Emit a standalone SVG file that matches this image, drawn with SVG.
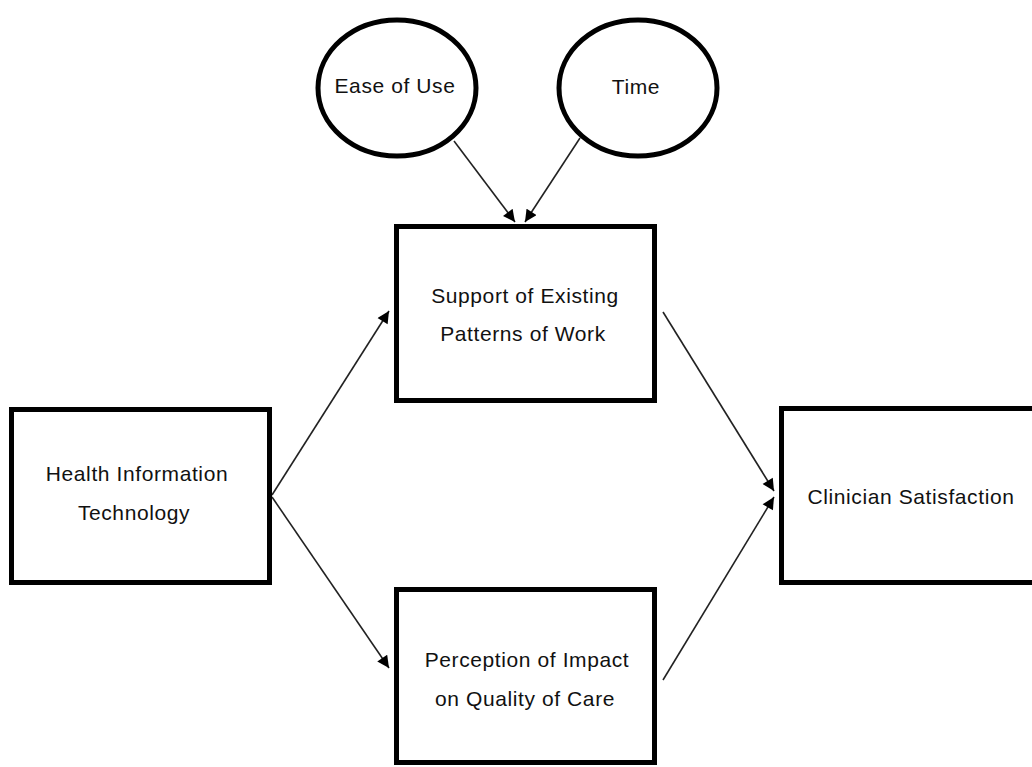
<svg xmlns="http://www.w3.org/2000/svg" width="1032" height="767" viewBox="0 0 1032 767">
<style>
.box{fill:#fff;stroke:#000;stroke-width:5}
.lbl{font-family:"Liberation Sans",Arial,sans-serif;font-size:21px;fill:#111;text-anchor:middle;letter-spacing:0.6px}
.con{stroke:#222;stroke-width:1.6;fill:none;marker-end:url(#ah)}
</style>
<defs>
<marker id="ah" viewBox="0 0 10 10" refX="10" refY="5" markerWidth="13" markerHeight="12" markerUnits="userSpaceOnUse" orient="auto">
<path d="M0,0 L10,5 L0,10 z" fill="#000"/>
</marker>
</defs>
<rect width="1032" height="767" fill="#fff"/>
<g id="connectors">
<line class="con" x1="454" y1="141" x2="515" y2="222"/>
<line class="con" x1="580" y1="138" x2="525" y2="222"/>
<line class="con" x1="272" y1="495" x2="389" y2="311"/>
<line class="con" x1="272" y1="497" x2="389" y2="668"/>
<line class="con" x1="663" y1="312" x2="774" y2="491"/>
<line class="con" x1="663" y1="680" x2="774" y2="497"/>
</g>
<g id="ease">
<ellipse class="box" cx="397" cy="88" rx="79" ry="68"/>
<text class="lbl" x="395" y="93">Ease of Use</text>
</g>
<g id="time">
<ellipse class="box" cx="638" cy="88" rx="79" ry="68"/>
<text class="lbl" x="636" y="94">Time</text>
</g>
<g id="support">
<rect class="box" x="396.5" y="226.5" width="258" height="174"/>
<text class="lbl" x="525" y="303">Support of Existing</text>
<text class="lbl" x="523" y="341">Patterns of Work</text>
</g>
<g id="hit">
<rect class="box" x="11.5" y="409.5" width="258" height="173"/>
<text class="lbl" x="137" y="481">Health Information</text>
<text class="lbl" x="134" y="520">Technology</text>
</g>
<g id="perception">
<rect class="box" x="396.5" y="589.5" width="258" height="173"/>
<text class="lbl" x="527" y="667">Perception of Impact</text>
<text class="lbl" x="525" y="706">on Quality of Care</text>
</g>
<g id="clinician">
<rect class="box" x="781.5" y="408.5" width="260" height="174"/>
<text class="lbl" x="911" y="504">Clinician Satisfaction</text>
</g>
</svg>
